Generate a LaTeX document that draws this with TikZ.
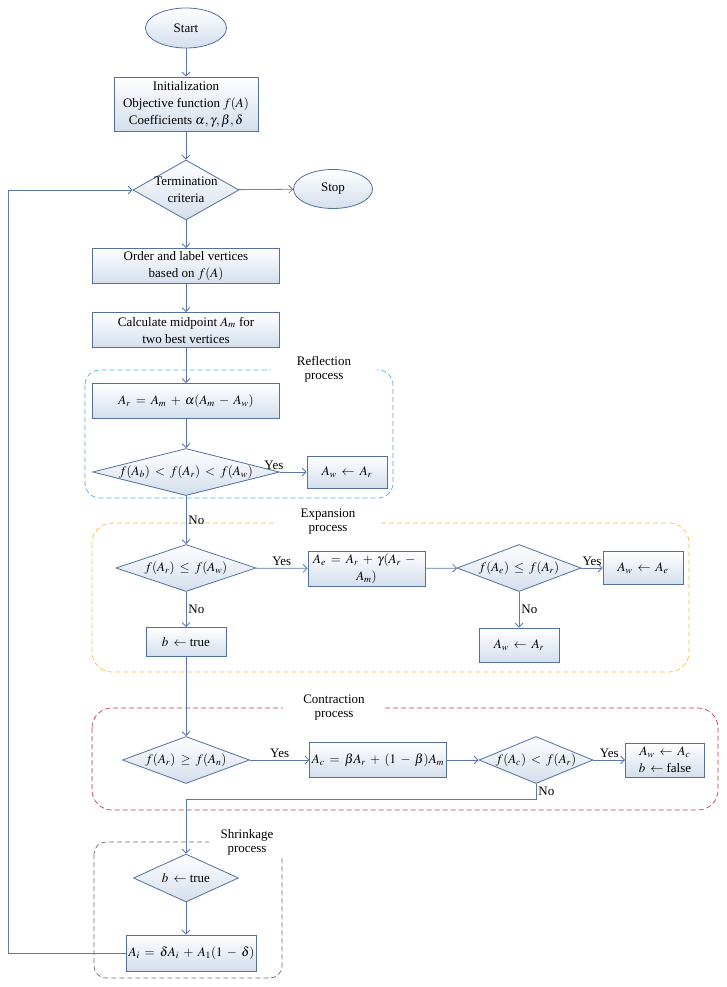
\documentclass[tikz,border=0pt]{standalone}
\usepackage{mathptmx}
\usepackage{fontspec}
\setmainfont{Liberation Serif}
\usetikzlibrary{shapes.geometric, arrows.meta, positioning}

\definecolor{boxline}{RGB}{82,112,160}
\definecolor{boxfill}{RGB}{212,222,236}
\definecolor{flowline}{RGB}{90,120,170}
\definecolor{stopline}{RGB}{130,130,130}
\definecolor{reflcol}{RGB}{70,180,215}
\definecolor{expcol}{RGB}{242,190,70}
\definecolor{concol}{RGB}{205,55,65}
\definecolor{shrcol}{RGB}{110,110,110}

\medmuskip=6mu plus 2mu minus 2mu
\thickmuskip=7mu plus 3mu

\begin{document}
\begin{tikzpicture}[
    x=1pt, y=-1pt,
    line width=0.8pt,
    >={Straight Barb[length=4pt,width=8pt]},
    font=\fontsize{13}{17}\selectfont,
    box/.style={rectangle, draw=boxline, top color=white, bottom color=boxfill, align=center, inner sep=2pt},
    terminal/.style={ellipse, draw=boxline, top color=white, bottom color=boxfill},
    decision/.style={diamond, draw=boxline, top color=white, bottom color=boxfill, inner sep=0pt, label={[align=center]center:#1}},
    group/.style={dash pattern=on 5pt off 3pt, line width=0.7pt, rounded corners=#1},
    grouptitle/.style={fill=white, align=center, font=\fontsize{13}{14}\selectfont, inner ysep=1pt},
    flow/.style={draw=flowline, ->},
    answer/.style={inner sep=2pt}
]

\useasboundingbox (0,0) rectangle (726,987);

\draw[group=15pt, draw=reflcol] (85,370) rectangle (393,498);
\node[grouptitle, minimum width=106pt] (refltitle) at (324,369) {Reflection\\process};
\draw[group=20pt, draw=expcol] (92,523) rectangle (689,672);
\node[grouptitle, minimum width=101pt] (exptitle) at (328,522) {Expansion\\process};
\draw[group=20pt, draw=concol] (92,708) rectangle (718,810);
\node[grouptitle, minimum width=102pt] (contitle) at (334,708) {Contraction\\process};
\draw[group=12pt, draw=shrcol] (94,842) rectangle (282,978);
\node[grouptitle, minimum width=76pt] (shrtitle) at (247,842) {Shrinkage\\process};

\node[terminal, minimum width=81pt, minimum height=40pt] (start) at (186,28) {Start};
\node[box, minimum width=144pt, minimum height=54pt] (init) at (186,104) {Initialization\\Objective function $f(A)$\\Coefficients $\alpha, \gamma, \beta, \delta$};
\node[decision={Termination\\criteria}, minimum width=106pt, minimum height=60pt] (term) at (186,190) {};
\node[terminal, minimum width=79pt, minimum height=39pt] (stop) at (333,189) {Stop};
\node[box, minimum width=187pt, minimum height=35pt] (order) at (186,266) {Order and label vertices\\based on $f(A)$};
\node[box, minimum width=187pt, minimum height=35pt] (calc) at (186,330) {Calculate midpoint $A_m$ for\\two best vertices};

\node[box, minimum width=187pt, minimum height=35pt] (refl) at (186,401) {$A_r = A_m + \alpha(A_m - A_w)$};
\node[decision={$f(A_b) < f(A_r) < f(A_w)$}, minimum width=187pt, minimum height=47pt] (dref) at (186,472) {};
\node[box, minimum width=80pt, minimum height=32pt] (awr1) at (347,472) {$A_w \leftarrow A_r$};

\node[decision={$f(A_r) \le f(A_w)$}, minimum width=140pt, minimum height=47pt] (dexp1) at (186,568) {};
\node[box, minimum width=117pt, minimum height=35pt] (expb) at (366.5,568.5) {$A_e = A_r + \gamma(A_r -{}$\\$A_m)$};
\node[decision={$f(A_e) \le f(A_r)$}, minimum width=124pt, minimum height=47pt] (dexp2) at (519,568) {};
\node[box, minimum width=80pt, minimum height=33pt] (awe) at (643,568) {$A_w \leftarrow A_e$};
\node[box, minimum width=80pt, minimum height=29pt] (btrue1) at (186,642) {$b \leftarrow$ true};
\node[box, minimum width=80pt, minimum height=34pt] (awr2) at (519,645) {$A_w \leftarrow A_r$};

\node[decision={$f(A_r) \ge f(A_n)$}, minimum width=127pt, minimum height=47pt] (dcon1) at (186,760) {};
\node[box, minimum width=130pt, minimum height=35pt] (conb) at (378,760) {$A_c = \beta A_r + (1 - \beta)A_m$};
\node[decision={$f(A_c) < f(A_r)$}, minimum width=114pt, minimum height=47pt] (dcon2) at (536,760) {};
\node[box, minimum width=79pt, minimum height=34pt] (awc) at (665,760) {$A_w \leftarrow A_c$\\$b \leftarrow$ false};

\node[decision={$b \leftarrow$ true}, minimum width=105pt, minimum height=48pt] (dshr) at (186,878) {};
\node[box, minimum width=129pt, minimum height=36pt] (shrb) at (191.5,953) {$A_i = \delta A_i + A_1(1 - \delta)$};

\coordinate (back) at (8,953);

\path[flow]
    (start) edge (init)
    (init)  edge (term)
    (term)  edge (order)
    (order) edge (calc)
    (calc)  edge (refl)
    (refl)  edge (dref)
    (dref)  edge node[answer, pos=0, anchor=south, xshift=-6pt] {Yes} (awr1)
    (dref)  edge node[answer, right] {No} (dexp1)
    (dexp1) edge node[answer, above] {Yes} (expb)
    (expb)  edge (dexp2)
    (dexp2) edge node[answer, above] {Yes} (awe)
    (dexp1) edge node[answer, right] {No} (btrue1)
    (dexp2) edge node[answer, right] {No} (awr2)
    (btrue1) edge (dcon1)
    (dcon1) edge node[answer, above] {Yes} (conb)
    (conb)  edge (dcon2)
    (dcon2) edge node[answer, above] {Yes} (awc)
    ;

\draw[flow] (dcon2.south) -- ++(0,15) node[answer, midway, right] {No} -| (dshr.north);
\draw[flow] (dshr.south) -- (dshr.south |- shrb.north);
\draw[flow] (shrb.west) -- (back) |- (term.west);
\draw[->, draw=stopline] (term) -- (stop);

\end{tikzpicture}
\end{document}
